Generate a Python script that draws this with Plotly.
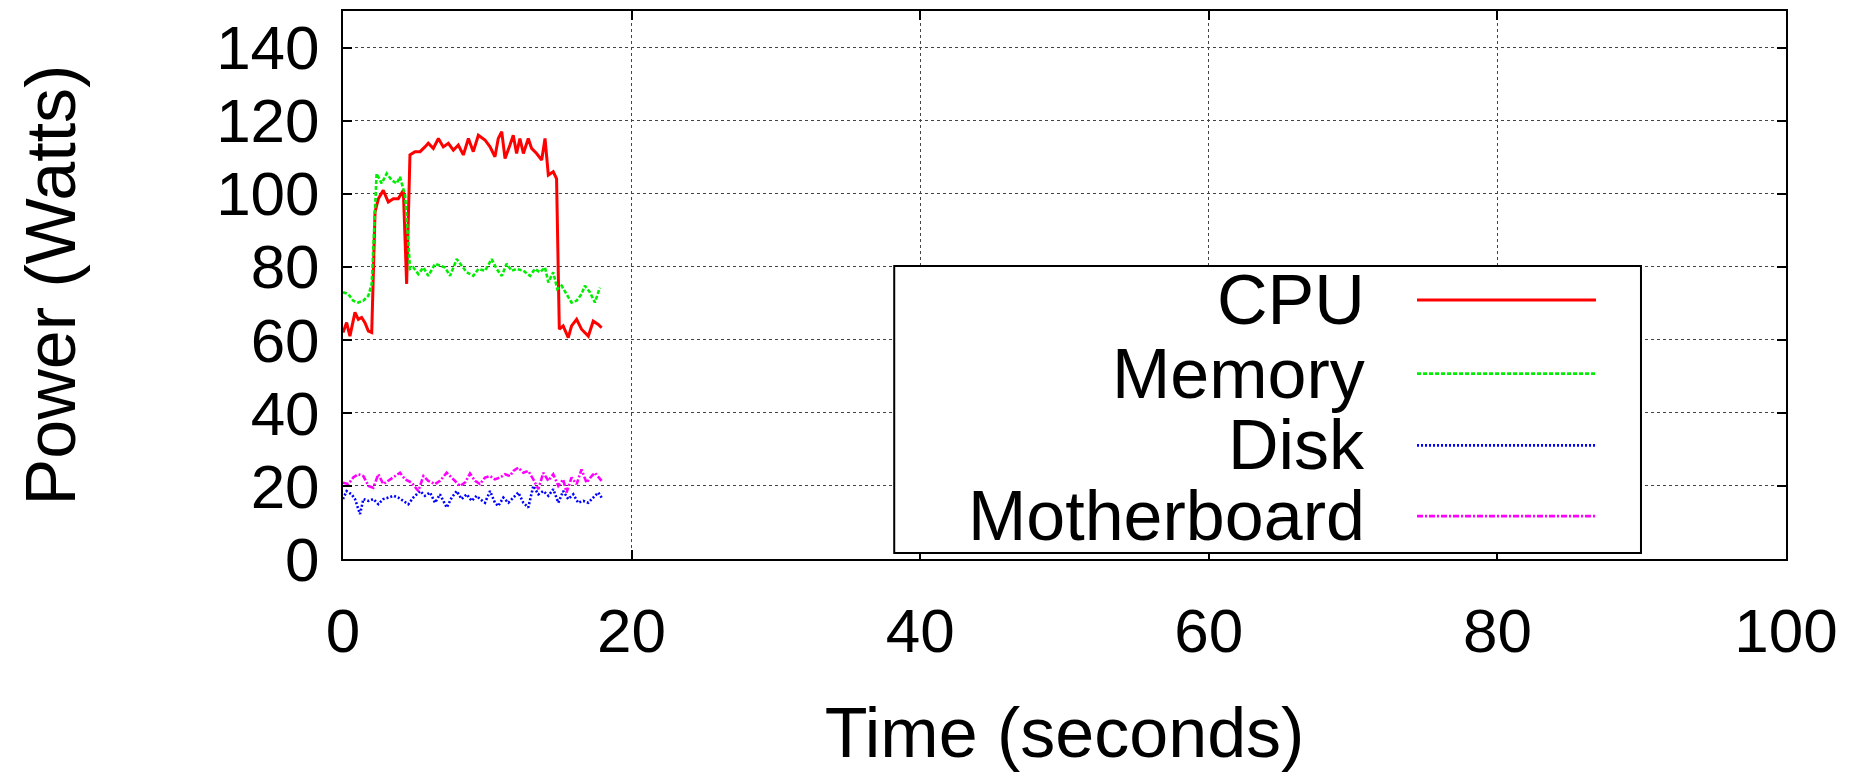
import plotly.graph_objects as go

# ---------------- data ----------------
series_names = ["CPU", "Memory", "Disk", "Motherboard"]
series_colors = ["#ff0000", "#00ee00", "#0000ff", "#ff00ff"]
series_dash = ["solid", "4px,2px", "2px,2px", "6px,2px,2px,2px"]

cpu_t = [0.0, 0.25, 0.48, 0.83, 1.06, 1.29, 1.52, 1.76, 1.99, 2.22, 2.45, 2.79, 3.14, 3.49, 3.83,
         4.18, 4.41, 4.64, 4.99, 5.34, 5.68, 5.91, 6.26, 6.61, 6.95, 7.3, 7.65, 7.99, 8.34, 8.69,
         9.03, 9.38, 9.84, 10.19, 10.53, 10.76, 11.0, 11.23, 11.57, 11.8, 12.03, 12.26, 12.5,
         12.84, 13.07, 13.42, 13.77, 14.0, 14.23, 14.57, 14.8, 14.99, 15.26, 15.61, 15.84, 16.19,
         16.53, 17.0, 17.34, 17.69, 17.92]
cpu_w = [62.0, 64.7, 61.0, 67.5, 65.6, 66.1, 64.7, 62.4, 62.0, 95.0, 98.6, 100.9, 97.7, 98.6, 98.6,
         100.9, 75.3, 110.6, 111.5, 111.5, 112.8, 113.8, 112.4, 115.1, 112.8, 113.8, 111.9, 113.3,
         110.6, 115.1, 111.5, 116.0, 114.7, 112.8, 110.1, 115.1, 117.0, 109.6, 113.3, 116.0, 111.0,
         115.1, 111.0, 115.1, 112.4, 111.0, 109.2, 115.1, 105.1, 106.0, 104.1, 62.9, 63.8, 60.6,
         63.8, 65.6, 62.9, 61.0, 65.1, 64.2, 63.3]

mem_t = [0.0, 0.37, 0.71, 1.06, 1.41, 1.76, 1.99, 2.22, 2.33, 2.68, 3.03, 3.37, 3.72, 3.95, 4.3,
         4.53, 4.64, 4.87, 5.22, 5.57, 5.91, 6.38, 6.72, 7.07, 7.42, 7.88, 8.22, 8.57, 9.03, 9.38,
         9.84, 10.3, 10.65, 11.0, 11.34, 11.69, 12.03, 12.5, 12.96, 13.3, 13.65, 14.0, 14.23,
         14.57, 14.85, 15.15, 15.49, 15.84, 16.19, 16.53, 16.76, 17.11, 17.46, 17.8]
mem_w = [73.0, 72.5, 70.7, 70.2, 70.7, 72.1, 75.3, 93.1, 105.5, 102.8, 105.5, 103.7, 102.8, 104.6,
         99.6, 86.7, 79.4, 79.8, 78.0, 79.8, 77.5, 80.8, 80.3, 79.8, 77.5, 82.1, 80.3, 78.5, 77.5,
         79.4, 78.9, 82.1, 79.4, 77.5, 80.8, 78.9, 79.4, 78.9, 77.5, 79.4, 78.5, 79.8, 75.7, 78.5,
         73.9, 74.8, 72.5, 70.2, 70.7, 72.5, 74.8, 73.0, 70.2, 74.3]

disk_t = [0.0, 0.25, 0.6, 0.83, 1.18, 1.41, 1.76, 2.1, 2.45, 2.79, 3.14, 3.49, 3.83, 4.18, 4.53,
          4.87, 5.34, 5.68, 6.03, 6.38, 6.72, 7.19, 7.53, 7.88, 8.22, 8.57, 8.92, 9.26, 9.49, 9.84,
          10.19, 10.53, 10.76, 11.11, 11.46, 11.8, 12.15, 12.5, 12.84, 13.19, 13.54, 13.88, 14.23,
          14.57, 14.92, 15.26, 15.61, 15.96, 16.3, 16.65, 17.0, 17.34, 17.69, 17.92]
disk_w = [16.4, 18.6, 17.7, 16.4, 12.3, 16.4, 15.9, 16.4, 15.0, 16.4, 16.8, 17.3, 16.8, 15.9, 15.0,
          16.8, 18.6, 17.3, 18.2, 15.4, 17.7, 14.1, 16.8, 18.6, 16.4, 17.7, 15.9, 17.3, 16.4, 15.4,
          18.6, 15.4, 14.5, 16.8, 15.4, 16.8, 18.2, 15.4, 14.1, 20.0, 17.7, 18.6, 17.3, 19.1, 15.4,
          18.6, 16.4, 17.7, 15.4, 15.9, 15.4, 16.8, 18.2, 16.8]

mb_t = [0.0, 0.37, 0.71, 1.06, 1.41, 1.76, 2.1, 2.45, 2.79, 3.26, 3.6, 3.95, 4.3, 4.76, 5.22, 5.57,
        5.91, 6.38, 6.72, 7.19, 7.65, 8.11, 8.45, 8.8, 9.15, 9.49, 9.84, 10.19, 10.53, 10.88, 11.23,
        11.57, 11.8, 12.15, 12.5, 12.84, 13.19, 13.54, 13.88, 14.23, 14.57, 14.92, 15.26, 15.49,
        15.84, 16.19, 16.53, 16.88, 17.23, 17.46, 17.92]
mb_w = [20.9, 20.5, 22.3, 23.2, 22.7, 20.0, 19.5, 23.2, 20.5, 21.8, 22.7, 23.6, 21.8, 20.9, 18.6,
        22.7, 21.4, 20.5, 21.4, 23.6, 21.8, 20.0, 20.9, 23.4, 21.4, 20.5, 22.3, 22.7, 21.8, 22.3,
        23.2, 22.7, 24.1, 25.0, 23.6, 24.1, 21.8, 19.1, 23.6, 21.4, 23.2, 20.0, 21.8, 18.2, 22.3,
        20.5, 24.5, 20.9, 22.7, 23.6, 21.4]

x_ticks = [0, 20, 40, 60, 80, 100]
y_ticks = [0, 20, 40, 60, 80, 100, 120, 140]
x_title = "Time (seconds)"
y_title = "Power (Watts)"

# ---------------- figure ----------------
FONT = "Liberation Sans, Arial, Helvetica, sans-serif"
series = [(cpu_t, cpu_w), (mem_t, mem_w), (disk_t, disk_w), (mb_t, mb_w)]
widths = [3, 2.6, 2.6, 2.6]

fig = go.Figure()
for (t, w), name, col, dash, lw in zip(series, series_names, series_colors, series_dash, widths):
    fig.add_trace(go.Scatter(x=t, y=w, mode="lines", name=name, showlegend=False,
                             line=dict(color=col, width=lw, dash=dash)))

axis_common = dict(
    showline=True, linecolor="black", linewidth=2, mirror="allticks",
    ticks="inside", ticklen=9, tickwidth=2, tickcolor="black",
    showgrid=True, gridcolor="#444444", gridwidth=1, griddash="dot",
    zeroline=False, tickfont=dict(family=FONT, size=62, color="black"),
)

fig.update_xaxes(range=[0, 100], tickvals=x_ticks, ticktext=[str(v) for v in x_ticks],
                 ticklabelstandoff=17,
                 title=dict(text=x_title, font=dict(family=FONT, size=70, color="black"), standoff=44),
                 **axis_common)
fig.update_yaxes(range=[0, 150], tickvals=y_ticks, ticktext=[str(v) for v in y_ticks],
                 ticklabelstandoff=9,
                 title=dict(text=y_title, font=dict(family=FONT, size=70, color="black"), standoff=118),
                 **axis_common)

# ---------------- legend (gnuplot style: label right-aligned, sample on the right) ----------------
box = dict(x0=0.382, x1=0.8995, y0=0.011, y1=0.5345)
row_y = [0.4727, 0.3382, 0.2073, 0.0782]
text_right = 0.7096
sample_x = (0.7443, 0.8683)

fig.add_shape(type="rect", xref="paper", yref="paper", layer="above",
              x0=box["x0"], x1=box["x1"], y0=box["y0"], y1=box["y1"],
              fillcolor="white", line=dict(color="black", width=2))
for name, col, dash, lw, yy in zip(series_names, series_colors, series_dash, widths, row_y):
    fig.add_shape(type="line", xref="paper", yref="paper", layer="above",
                  x0=sample_x[0], x1=sample_x[1], y0=yy, y1=yy,
                  line=dict(color=col, width=lw, dash=dash))
    fig.add_annotation(x=text_right, y=yy, xref="paper", yref="paper", text=name,
                       showarrow=False, xanchor="right", yanchor="middle",
                       font=dict(family=FONT, size=70, color="black"))

fig.update_layout(
    width=1870, height=775,
    margin=dict(l=343, r=84, t=9, b=216),
    paper_bgcolor="white", plot_bgcolor="white",
    font=dict(family=FONT, color="black"),
    showlegend=False,
)

fig.write_html("out.html")
